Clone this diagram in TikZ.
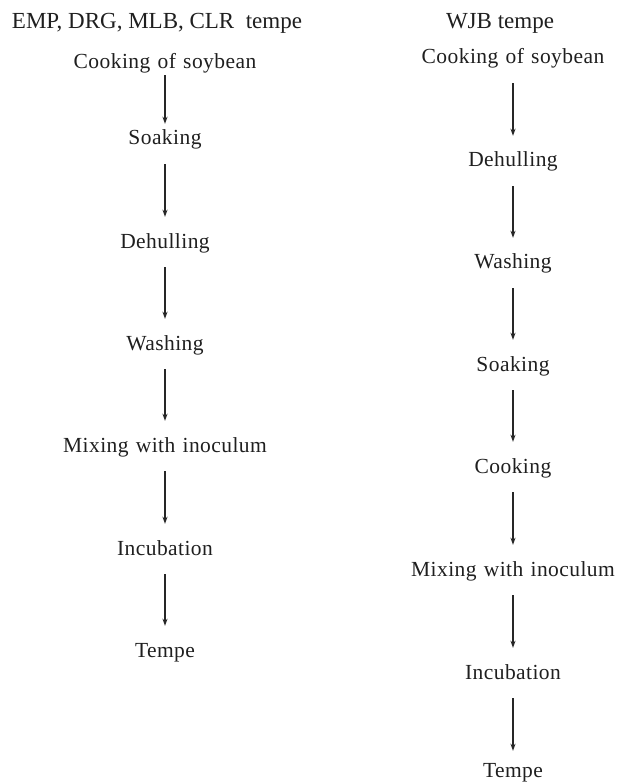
\documentclass[tikz,border=0pt]{standalone}
\usepackage{fontspec}
\setmainfont{Liberation Serif}
\newfontfamily\spaced[LetterSpace=2,WordSpace=1.25]{Liberation Serif}
\usetikzlibrary{arrows.meta}
\begin{document}
\begin{tikzpicture}[x=1pt,y=-1pt,
  hdr/.style={inner sep=0pt,text height=15pt,text depth=5pt,font=\fontsize{23}{27}\selectfont,text=black!88},
  stepbox/.style={inner sep=0pt,text height=15pt,text depth=5pt,font=\fontsize{21.5}{26}\spaced,text=black!88},
  arr/.style={line width=1.6pt,black!85,-{Stealth[length=7pt,width=5pt]},shorten <=14pt,shorten >=16pt}]
\useasboundingbox (0,0) rectangle (618,783);
\node[hdr] (h1) at (157,24) {EMP, DRG, MLB, CLR\ \ tempe};
\node[hdr] (h2) at (500,24) {WJB tempe};
% left column
\node[stepbox] (l1) at (165,64) {Cooking of soybean};
\node[stepbox] (l2) at (165,140) {Soaking};
\node[stepbox] (l3) at (165,243) {Dehulling};
\node[stepbox] (l4) at (165,345) {Washing};
\node[stepbox] (l5) at (165,447) {Mixing with inoculum};
\node[stepbox] (l6) at (165,550) {Incubation};
\node[stepbox] (l7) at (165,652) {Tempe};
% right column
\node[stepbox] (r1) at (513,59) {Cooking of soybean};
\node[stepbox] (r2) at (513,162) {Dehulling};
\node[stepbox] (r3) at (513,264) {Washing};
\node[stepbox] (r4) at (513,366) {Soaking};
\node[stepbox] (r5) at (513,468) {Cooking};
\node[stepbox] (r6) at (513,571) {Mixing with inoculum};
\node[stepbox] (r7) at (513,674) {Incubation};
\node[stepbox] (r8) at (513,772) {Tempe};
\draw[arr,shorten <=1pt,shorten >=6pt] (l1) -- (l2);
\foreach \a/\b in {l2/l3,l3/l4,l4/l5,l5/l6,l6/l7,r1/r2,r2/r3,r3/r4,r4/r5,r5/r6,r6/r7}
  \draw[arr] (\a) -- (\b);
\draw[arr,shorten >=11pt] (r7) -- (r8);
\end{tikzpicture}
\end{document}
